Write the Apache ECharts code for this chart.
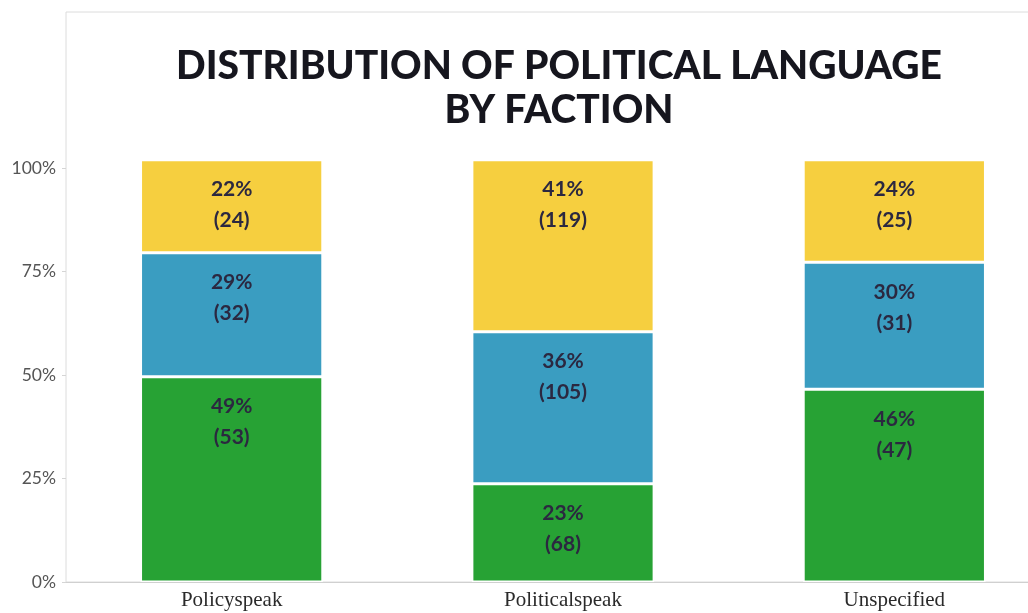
<!DOCTYPE html>
<html>
<head>
<meta charset="utf-8">
<script src="https://cdn.jsdelivr.net/npm/echarts@6/dist/echarts.min.js"></script>
<style>
  html, body { margin: 0; padding: 0; background: #ffffff; overflow: hidden; width: 1028px; height: 613px; }
  #chart { width: 1062px; height: 613px; }
</style>
</head>
<body>
<div id="chart"></div>
<script>
// ---- data ----
var categories = ['Policyspeak', 'Politicalspeak', 'Unspecified'];
var greenCounts  = [53, 68, 47];
var blueCounts   = [32, 105, 31];
var yellowCounts = [24, 119, 25];
var yTicks = [0, 25, 50, 75, 100];

var totals = categories.map(function (c, i) {
  return greenCounts[i] + blueCounts[i] + yellowCounts[i];
});
function share(counts) {
  return counts.map(function (v, i) { return v / totals[i] * 100; });
}

var labelStyle = {
  show: true,
  position: 'insideTop',
  distance: 14,
  fontFamily: 'Lato',
  fontWeight: 'bold',
  fontSize: 21,
  lineHeight: 31,
  color: '#2b2840',
  align: 'center'
};

function makeSeries(name, counts, color) {
  var vals = share(counts);
  return {
    name: name,
    type: 'bar',
    stack: 'total',
    xAxisIndex: 0,
    yAxisIndex: 0,
    barWidth: '55%',
    data: vals,
    itemStyle: { color: color, borderColor: '#ffffff', borderWidth: 1.5 },
    label: Object.assign({}, labelStyle, {
      formatter: function (p) {
        return Math.round(p.value) + '%\n(' + counts[p.dataIndex] + ')';
      }
    })
  };
}

var chart = echarts.init(document.getElementById('chart'), null, { renderer: 'canvas' });
chart.setOption({
  animation: false,
  backgroundColor: '#ffffff',
  title: {
    text: 'DISTRIBUTION OF POLITICAL LANGUAGE\nBY FACTION',
    left: 554,
    top: 39,
    textAlign: 'center',
    textStyle: {
      fontFamily: 'Lato',
      fontWeight: 900,
      fontSize: 39,
      lineHeight: 44,
      color: '#16161e'
    }
  },
  grid: [
    { left: 66, right: 2, top: 12, bottom: 31, show: true, borderColor: '#dcdcdc', borderWidth: 1, backgroundColor: 'transparent' },
    { left: 66, right: 2, top: 168, bottom: 31, show: false }
  ],
  xAxis: [
    {
      type: 'category', gridIndex: 0, data: categories,
      axisLine: { show: true, lineStyle: { color: '#d0d0d0', width: 1 } },
      axisTick: { show: false },
      axisLabel: { fontFamily: 'Liberation Serif', fontSize: 21, color: '#2a2a2a', margin: 8 }
    },
    { type: 'category', gridIndex: 1, data: categories, show: false }
  ],
  yAxis: [
    { type: 'value', gridIndex: 0, min: 0, max: 135, show: false, splitLine: { show: false } },
    {
      type: 'value', gridIndex: 1, min: 0, max: 100, interval: 25,
      axisLine: { show: false },
      axisTick: { show: true, length: 4, lineStyle: { color: '#d5d5d5' } },
      splitLine: { show: false },
      axisLabel: {
        fontFamily: 'Lato', fontSize: 17.5, color: '#555555', margin: 10,
        formatter: function (v) { return yTicks.indexOf(v) >= 0 ? v + '%' : ''; }
      }
    }
  ],
  series: [
    makeSeries('Green', greenCounts, '#27a234'),
    makeSeries('Blue', blueCounts, '#3a9dc1'),
    makeSeries('Yellow', yellowCounts, '#f6cf3f')
  ]
});
</script>
</body>
</html>
